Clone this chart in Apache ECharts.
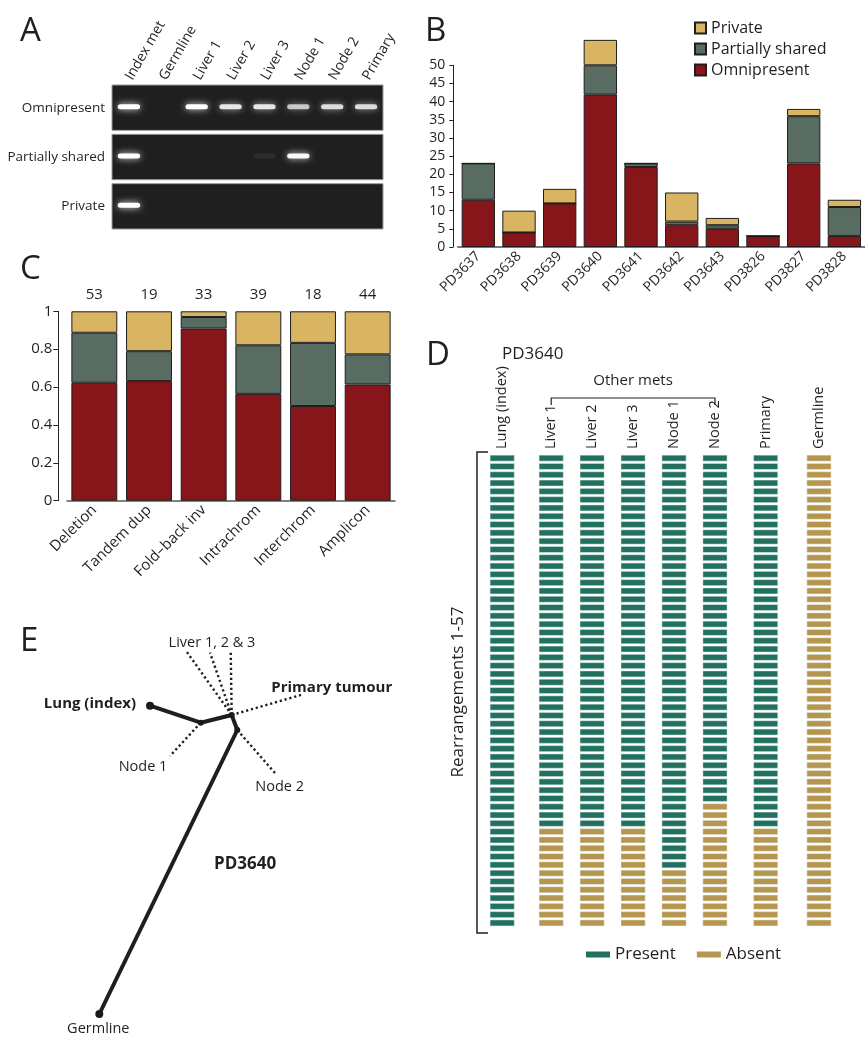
<!DOCTYPE html>
<html><head><meta charset="utf-8">
<script src="https://cdn.jsdelivr.net/npm/echarts@6/dist/echarts.min.js"></script>
<style>html,body{margin:0;padding:0;background:#fff}#c{width:865px;height:1050px}</style>
</head><body><div id="c"></div>
<script>
// ---------- DATA ----------
// Panel A (gel): lanes, rows and band intensities (0 = no band, 1 = strong band)
const gelLanes = ['Index met', 'Germline', 'Liver 1', 'Liver 2', 'Liver 3', 'Node 1', 'Node 2', 'Primary'];
const gelRows = ['Omnipresent', 'Partially shared', 'Private'];
const gelOmnipresent = [1.0, 0, 1.0, 0.85, 0.85, 0.7, 0.8, 0.8];
const gelPartiallyShared = [1.0, 0, 0, 0, 0.06, 0.95, 0, 0];
const gelPrivate = [1.0, 0, 0, 0, 0, 0, 0, 0];

// Panel B: rearrangement counts per patient
const samples = ['PD3637', 'PD3638', 'PD3639', 'PD3640', 'PD3641', 'PD3642', 'PD3643', 'PD3826', 'PD3827', 'PD3828'];
const bOmnipresent = [13, 4, 12, 42, 22, 6, 5, 3, 23, 3];
const bPartiallyShared = [10, 0, 0, 8, 1, 1, 1, 0, 13, 8];
const bPrivate = [0, 6, 4, 7, 0, 8, 2, 0, 2, 2];

// Panel C: counts per rearrangement type
const rearrTypes = ['Deletion', 'Tandem dup', 'Fold\u2013back inv', 'Intrachrom', 'Interchrom', 'Amplicon'];
const cOmnipresent = [33, 12, 30, 22, 9, 27];
const cPartiallyShared = [14, 3, 2, 10, 6, 7];
const cPrivate = [6, 4, 1, 7, 3, 10];

// Panel D: PD3640 rearrangements 1-57 grouped in blocks with the same sharing pattern
const dSamples = ['Lung (index)', 'Liver 1', 'Liver 2', 'Liver 3', 'Node 1', 'Node 2', 'Primary', 'Germline'];
const dBlockSizes = [42, 3, 5, 7];
const dPresence = [
  [1, 1, 1, 1], // Lung (index)
  [1, 1, 0, 0], // Liver 1
  [1, 1, 0, 0], // Liver 2
  [1, 1, 0, 0], // Liver 3
  [1, 1, 1, 0], // Node 1
  [1, 0, 0, 0], // Node 2
  [1, 1, 0, 0], // Primary
  [0, 0, 0, 0]  // Germline
];

// Panel E: phylogenetic tree of PD3640 (node positions in tree-plot units)
const treeNodes = ['Germline', 'J1', 'J2', 'J3', 'Lung (index)', 'Node 1', 'Node 2', 'Primary tumour', 'Liver 1', 'Liver 2', 'Liver 3'];
const treeX = [99.3, 237.3, 231.7, 200.7, 150, 170, 276.7, 303.3, 186.7, 210, 230.7];
const treeY = [414, 130, 115, 122.7, 105.7, 156, 175, 94.3, 51.7, 52.7, 50.7];
const treeSolidEdges = [['Germline', 'J1'], ['J1', 'J2'], ['J2', 'J3'], ['J3', 'Lung (index)']];
const treeDottedEdges = [['J3', 'Node 1'], ['J1', 'Node 2'], ['J2', 'Primary tumour'], ['J2', 'Liver 1'], ['J2', 'Liver 2'], ['J2', 'Liver 3']];

// ---------- STYLE / LAYOUT ----------
const FONT = '"Open Sans", "Noto Sans", sans-serif';
const TXT = '#231f20';
const COL_PRIV = '#d8b463', COL_PART = '#586c62', COL_OMNI = '#86161a';
const COL_PRESENT = '#22705f', COL_ABSENT = '#b6964f';
const letter = { fontSize: 33, fontWeight: 'normal', color: TXT, fontFamily: FONT };

// D column groups (grid per group)
const dGroups = [
  { cols: [0], left: 481.7 },
  { cols: [1, 2, 3, 4, 5], left: 530.7, name: 'Other mets' },
  { cols: [6], left: 745.2 },
  { cols: [7], left: 798.5 }
];
const dPitch = 40.95, dTop = 454, dRowH = 8.3;
const nRows = dBlockSizes.reduce((a, b) => a + b, 0);
const rowCats = Array.from({ length: nRows }, (_, i) => String(i + 1));

// ---------- BUILD ----------
const cTotals = cOmnipresent.map((v, i) => v + cPartiallyShared[i] + cPrivate[i]);
const prop = (arr) => arr.map((v, i) => v / cTotals[i]);

const gelData = [];
[gelOmnipresent, gelPartiallyShared, gelPrivate].forEach((row, r) => row.forEach((v, l) => { if (v > 0) gelData.push([l, r, v]); }));

function dCells(cols, present) {
  const out = [];
  cols.forEach((c, j) => {
    let r = 0;
    dBlockSizes.forEach((n, b) => {
      for (let k = 0; k < n; k++, r++) if ((dPresence[c][b] === 1) === present) out.push([j, r]);
    });
  });
  return out;
}

function cellRender(params, api) {
  const p = api.coord([api.value(0), api.value(1)]);
  const s = api.size([1, 1]);
  const w = s[0] * 0.59, h = s[1] * 0.72;
  return { type: 'rect', shape: { x: p[0] - w / 2, y: p[1] - h / 2, width: w, height: h },
    style: { fill: api.visual('color'), stroke: 'rgba(225,240,236,0.8)', lineWidth: 0.6 } };
}
function gelBoxRender(params, api) {
  const cs = params.coordSys;
  const p = api.coord([0, api.value(1)]);
  const bh = api.size([0, 1])[1];
  return { type: 'rect', shape: { x: cs.x, y: p[1] - bh / 2 + 2, width: cs.width, height: bh - 4 },
    style: { fill: '#1f1f1f', stroke: '#9a9a9a', lineWidth: 1 } };
}
function gelBandRender(params, api) {
  const p = api.coord([api.value(0), api.value(1)]);
  const lw = api.size([1, 0])[0];
  const v = api.value(2);
  const w = lw * 0.66, h = 5;
  return { type: 'rect', shape: { x: p[0] - w / 2, y: p[1] - h / 2 - 1, width: w, height: h, r: 2.5 },
    style: { fill: 'rgba(255,255,255,' + v + ')', shadowBlur: 7, shadowColor: 'rgba(255,255,255,' + (v * 0.9) + ')' } };
}

const grids = [
  { left: 112, top: 83, width: 271, height: 148 },          // A
  { left: 458, top: 65.3, width: 406.7, height: 181.7 },     // B
  { left: 67, top: 311.3, width: 328, height: 189.4 },       // C
];
dGroups.forEach(g => grids.push({ left: g.left, top: dTop, width: dPitch * g.cols.length, height: dRowH * nRows }));
grids.push({ left: 0, top: 600, width: 440, height: 450 });  // E
const E = grids.length - 1;

const axLabel = { color: TXT, fontFamily: FONT };
const xAxes = [
  { gridIndex: 0, type: 'category', data: gelLanes, position: 'top', axisLine: { show: false }, axisTick: { show: false },
    axisLabel: Object.assign({ rotate: -60, fontSize: 14, margin: 4, interval: 0 }, axLabel) },
  { gridIndex: 1, type: 'category', data: samples, axisLine: { lineStyle: { color: '#777', width: 2 } },
    axisTick: { alignWithLabel: true, length: 4, lineStyle: { color: '#222' } },
    axisLabel: Object.assign({ rotate: 45, fontSize: 14, margin: 7, interval: 0 }, axLabel) },
  { gridIndex: 2, type: 'category', data: rearrTypes, axisLine: { lineStyle: { color: '#555', width: 1.5 } },
    axisTick: { alignWithLabel: true, length: 4, lineStyle: { color: '#222' } },
    axisLabel: Object.assign({ rotate: 45, fontSize: 15, margin: 7, interval: 0 }, axLabel) }
];
const yAxes = [
  { gridIndex: 0, type: 'category', data: gelRows, inverse: true, axisLine: { show: false }, axisTick: { show: false },
    axisLabel: Object.assign({ fontSize: 13.5, margin: 7 }, axLabel) },
  { gridIndex: 1, type: 'value', min: 0, max: 50, interval: 5, offset: 4.7, splitLine: { show: false },
    axisLine: { show: true, lineStyle: { color: '#222' } }, axisTick: { show: true, length: 4, lineStyle: { color: '#222' } },
    axisLabel: Object.assign({ fontSize: 14, margin: 8 }, axLabel) },
  { gridIndex: 2, type: 'value', min: 0, max: 1, interval: 0.2, offset: 8.7, splitLine: { show: false },
    axisLine: { show: true, lineStyle: { color: '#222' } }, axisTick: { show: true, length: 5, lineStyle: { color: '#222' } },
    axisLabel: Object.assign({ fontSize: 15, margin: 6 }, axLabel) }
];
dGroups.forEach((g, k) => {
  xAxes.push({ gridIndex: 3 + k, type: 'category', data: g.cols.map(c => dSamples[c]), position: 'top',
    axisLine: { show: false }, axisTick: { show: false },
    axisLabel: Object.assign({ rotate: -90, fontSize: 14.5, margin: 5, interval: 0 }, axLabel),
    name: g.name || '', nameLocation: 'middle', nameGap: 66, nameTextStyle: { fontSize: 15, color: TXT, fontFamily: FONT } });
  yAxes.push({ gridIndex: 3 + k, type: 'category', data: rowCats, inverse: true, show: false });
});
xAxes.push({ gridIndex: E, type: 'value', min: 0, max: 440, show: false });
yAxes.push({ gridIndex: E, type: 'value', min: 0, max: 450, inverse: true, show: false });

const barStyle = (c) => ({ color: c, borderColor: '#1e1e1e', borderWidth: 1 });
const series = [
  { type: 'custom', name: 'gelBox', xAxisIndex: 0, yAxisIndex: 0, renderItem: gelBoxRender, data: gelRows.map((_, r) => [0, r]), silent: true },
  { type: 'custom', name: 'gelBand', xAxisIndex: 0, yAxisIndex: 0, renderItem: gelBandRender, data: gelData, silent: true },
  { type: 'bar', name: 'Omnipresent', stack: 'b', xAxisIndex: 1, yAxisIndex: 1, data: bOmnipresent, itemStyle: barStyle(COL_OMNI), barCategoryGap: '18%', clip: false },
  { type: 'bar', name: 'Partially shared', stack: 'b', xAxisIndex: 1, yAxisIndex: 1, data: bPartiallyShared, itemStyle: barStyle(COL_PART), clip: false },
  { type: 'bar', name: 'Private', stack: 'b', xAxisIndex: 1, yAxisIndex: 1, data: bPrivate, itemStyle: barStyle(COL_PRIV), clip: false },
  { type: 'bar', name: 'Omnipresent', stack: 'c', xAxisIndex: 2, yAxisIndex: 2, data: prop(cOmnipresent), itemStyle: barStyle(COL_OMNI), barCategoryGap: '16%' },
  { type: 'bar', name: 'Partially shared', stack: 'c', xAxisIndex: 2, yAxisIndex: 2, data: prop(cPartiallyShared), itemStyle: barStyle(COL_PART) },
  { type: 'bar', name: 'Private', stack: 'c', xAxisIndex: 2, yAxisIndex: 2, data: prop(cPrivate), itemStyle: barStyle(COL_PRIV),
    label: { show: true, position: 'top', distance: 9, fontSize: 15, color: TXT, fontFamily: FONT, formatter: p => String(cTotals[p.dataIndex]) } }
];
dGroups.forEach((g, k) => {
  series.push({ type: 'custom', name: 'Present', xAxisIndex: 3 + k, yAxisIndex: 3 + k, renderItem: cellRender, itemStyle: { color: COL_PRESENT }, data: dCells(g.cols, true) });
  series.push({ type: 'custom', name: 'Absent', xAxisIndex: 3 + k, yAxisIndex: 3 + k, renderItem: cellRender, itemStyle: { color: COL_ABSENT }, data: dCells(g.cols, false) });
});

// Panel E tree
const treeSymbol = { 'Germline': 8, 'Lung (index)': 8, 'J1': 6, 'J2': 6, 'J3': 6 };
const treeLabels = {
  'Germline': { text: 'Germline', offset: [-1, 15], align: 'center' },
  'Lung (index)': { text: 'Lung (index)', offset: [-14, -2], align: 'right', bold: true },
  'Node 1': { text: 'Node 1', offset: [-27, 11], align: 'center' },
  'Node 2': { text: 'Node 2', offset: [3, 12], align: 'center' },
  'Primary tumour': { text: 'Primary tumour', offset: [-32, -7], align: 'left', bold: true },
  'Liver 2': { text: 'Liver 1, 2 & 3', offset: [2, -10], align: 'center' }
};
series.push({
  type: 'graph', coordinateSystem: 'cartesian2d', xAxisIndex: E, yAxisIndex: E, silent: true,
  data: treeNodes.map((n, i) => {
    const lb = treeLabels[n];
    return {
      name: n, value: [treeX[i], treeY[i]], symbol: 'circle', symbolSize: treeSymbol[n] || 0,
      itemStyle: { color: '#1a1a1a' },
      label: lb ? { show: true, position: 'inside', formatter: lb.text, offset: lb.offset, align: lb.align, verticalAlign: 'middle',
        fontSize: lb.bold ? 15 : 14.5, fontWeight: lb.bold ? 'bold' : 'normal', color: TXT, fontFamily: FONT } : { show: false }
    };
  }),
  links: treeSolidEdges.map(e => ({ source: e[0], target: e[1], lineStyle: { width: 4, color: '#1e1e1e', type: 'solid', opacity: 1 } }))
    .concat(treeDottedEdges.map(e => ({ source: e[0], target: e[1], lineStyle: { width: 2.4, color: '#1e1e1e', type: [2.2, 2.8], opacity: 1 } }))),
  lineStyle: { curveness: 0 }
});

const option = {
  animation: false,
  backgroundColor: '#fff',
  textStyle: { fontFamily: FONT },
  title: [
    { text: 'A', left: 15, top: 10, textStyle: letter },
    { text: 'B', left: 420, top: 10, textStyle: letter },
    { text: 'C', left: 15, top: 248, textStyle: letter },
    { text: 'D', left: 421, top: 334, textStyle: letter },
    { text: 'E', left: 15, top: 620, textStyle: letter },
    { text: 'PD3640', left: 497, top: 341, textStyle: { fontSize: 17, fontWeight: 'normal', color: TXT, fontFamily: FONT } },
    { text: 'PD3640', left: 209, top: 851, textStyle: { fontSize: 17, fontWeight: 'bold', color: TXT, fontFamily: FONT } }
  ],
  legend: [
    { data: ['Private', 'Partially shared', 'Omnipresent'], orient: 'vertical', left: 689, top: 15, itemWidth: 11, itemHeight: 11,
      itemGap: 5, icon: 'rect', textStyle: { fontSize: 16, color: TXT, fontFamily: FONT }, selectedMode: false },
    { data: ['Present', 'Absent'], orient: 'horizontal', left: 581, top: 941, itemWidth: 24, itemHeight: 6, itemGap: 21,
      icon: 'rect', textStyle: { fontSize: 17, color: TXT, fontFamily: FONT }, selectedMode: false }
  ],
  grid: grids,
  xAxis: xAxes,
  yAxis: yAxes,
  series: series,
  graphic: [
    { type: 'polyline', shape: { points: [[551.2, 405], [551.2, 398], [715, 398], [715, 405]] }, style: { stroke: '#222', lineWidth: 1.2, fill: null } },
    { type: 'polyline', shape: { points: [[488, 452], [477, 452], [477, 933], [488, 933]] }, style: { stroke: '#222', lineWidth: 1.5, fill: null } },
    { type: 'text', x: 458, y: 692, rotation: Math.PI / 2, style: { text: 'Rearrangements 1-57', fontSize: 17, fill: TXT, fontFamily: FONT, align: 'center', verticalAlign: 'middle' } }
  ]
};
const chart = echarts.init(document.getElementById('c'));
chart.setOption(option);
</script></body></html>
